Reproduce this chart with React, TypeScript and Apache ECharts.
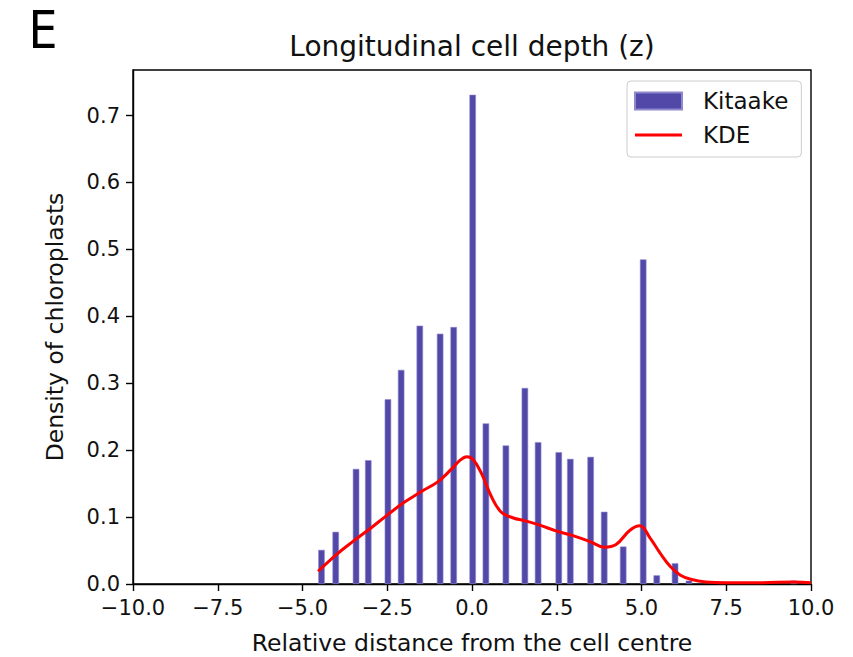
import React, { useEffect, useRef } from "react";
import * as echarts from "echarts";

// Histogram bars (bin centre, density)
const binCenters = [-4.44, -4.02, -3.42, -3.06, -2.48, -2.09, -1.54, -0.94, -0.54, 0.02, 0.41, 1.0, 1.56, 1.95, 2.56, 2.9, 3.5, 3.9, 4.46, 5.05, 5.45, 5.99, 6.4, 9.49];
const densities = [0.051, 0.078, 0.172, 0.185, 0.276, 0.32, 0.386, 0.374, 0.384, 0.731, 0.24, 0.207, 0.293, 0.212, 0.197, 0.187, 0.19, 0.108, 0.056, 0.485, 0.013, 0.031, 0.005, 0.005];

// KDE curve
const kdeX = [-4.54, -4.0, -3.5, -3.0, -2.5, -2.0, -1.5, -1.0, -0.6, -0.35, -0.15, 0.05, 0.3, 0.55, 0.85, 1.2, 1.6, 2.0, 2.5, 3.0, 3.5, 3.9, 4.25, 4.65, 4.95, 5.25, 5.55, 5.85, 6.15, 6.45, 6.9, 7.5, 8.5, 9.5, 10.0];
const kdeY = [0.019, 0.044, 0.064, 0.083, 0.103, 0.122, 0.138, 0.153, 0.172, 0.185, 0.19, 0.185, 0.163, 0.133, 0.108, 0.099, 0.094, 0.088, 0.079, 0.072, 0.063, 0.055, 0.059, 0.08, 0.087, 0.069, 0.046, 0.026, 0.013, 0.007, 0.003, 0.002, 0.002, 0.003, 0.002];

const yTicks = [0, 0.1, 0.2, 0.3, 0.4, 0.5, 0.6, 0.7];
const seriesNames = ["Kitaake", "KDE"];

const FONT = "DejaVu Sans";
const TXT = "#111";

const fmt = (v: number) => {
  const s = Math.abs(v).toFixed(1);
  return v < -1e-9 ? "\u2212" + s : s;
};

export default function App() {
  const ref = useRef<HTMLDivElement>(null);
  useEffect(() => {
    document.body.style.margin = "0";
    const chart = echarts.init(ref.current!, null, { renderer: "svg" });
    const option: any = {
      animation: false,
      textStyle: { fontFamily: FONT },
      grid: {
        left: 133,
        right: 42,
        top: 70,
        bottom: 73,
        containLabel: false,
        outerBoundsMode: "none",
        show: true,
        borderColor: "#000",
        borderWidth: 1.4,
        backgroundColor: "transparent",
      },
      graphic: [
        {
          type: "text",
          x: 28.5,
          y: 30.5,
          scaleX: 0.9,
          style: { text: "E", fill: "#000", font: `51px "${FONT}"`, align: "left", verticalAlign: "middle" },
        },
        {
          type: "text",
          x: 472,
          y: 46,
          style: {
            text: "Longitudinal cell depth (z)",
            fill: TXT,
            font: `28px "${FONT}"`,
            align: "center",
            verticalAlign: "middle",
          },
        },
      ],
      legend: {
        data: [
          { name: seriesNames[0], icon: "rect" },
          { name: seriesNames[1], icon: "path://M0,0L47,0L47,3L0,3Z" },
        ],
        orient: "vertical",
        left: 627,
        top: 81,
        itemWidth: 47,
        itemHeight: 17,
        itemGap: 10,
        padding: [8, 13, 10, 7],
        borderColor: "#cccccc",
        borderWidth: 1,
        borderRadius: 4,
        backgroundColor: "rgba(255,255,255,0.8)",
        textStyle: { fontSize: 23, color: TXT, fontFamily: FONT, padding: [0, 0, 0, 16], lineHeight: 24 },
      },
      xAxis: {
        type: "value",
        min: -10,
        max: 10,
        interval: 2.5,
        name: "Relative distance from the cell centre",
        nameLocation: "middle",
        nameGap: 47,
        nameTextStyle: { fontSize: 23.5, color: TXT, fontFamily: FONT },
        axisLine: { show: true, onZero: false, lineStyle: { color: "#000", width: 1.4 } },
        axisTick: { show: true, length: 7, lineStyle: { color: "#000", width: 1.4 } },
        axisLabel: { color: TXT, fontSize: 21, margin: 13, fontFamily: FONT, formatter: (v: number) => fmt(v) },
        splitLine: { show: false },
      },
      yAxis: {
        type: "value",
        min: 0,
        max: 0.768,
        name: "Density of chloroplasts",
        nameLocation: "middle",
        nameGap: 66,
        nameTextStyle: { fontSize: 23.5, color: TXT, fontFamily: FONT },
        axisLine: { show: true, onZero: false, lineStyle: { color: "#000", width: 1.4 } },
        axisTick: { show: true, length: 7, customValues: yTicks, lineStyle: { color: "#000", width: 1.4 } },
        axisLabel: {
          color: TXT,
          fontSize: 21,
          margin: 13,
          fontFamily: FONT,
          customValues: yTicks,
          formatter: (v: number) => v.toFixed(1),
        },
        splitLine: { show: false },
      },
      series: [
        {
          type: "bar",
          name: seriesNames[0],
          data: binCenters.map((x, i) => [x, densities[i]]),
          barWidth: 6.5,
          itemStyle: { color: "#5148a8", borderColor: "#8e88cc", borderWidth: 0.6 },
        },
        {
          type: "line",
          name: seriesNames[1],
          data: kdeX.map((x, i) => [x, kdeY[i]]),
          smooth: 0.4,
          symbol: "none",
          showSymbol: false,
          lineStyle: { color: "#ff0000", width: 3 },
          itemStyle: { color: "#ff0000" },
          z: 3,
        },
      ],
    };
    chart.setOption(option);
    return () => chart.dispose();
  }, []);
  return <div ref={ref} style={{ width: 853, height: 657 }} />;
}
